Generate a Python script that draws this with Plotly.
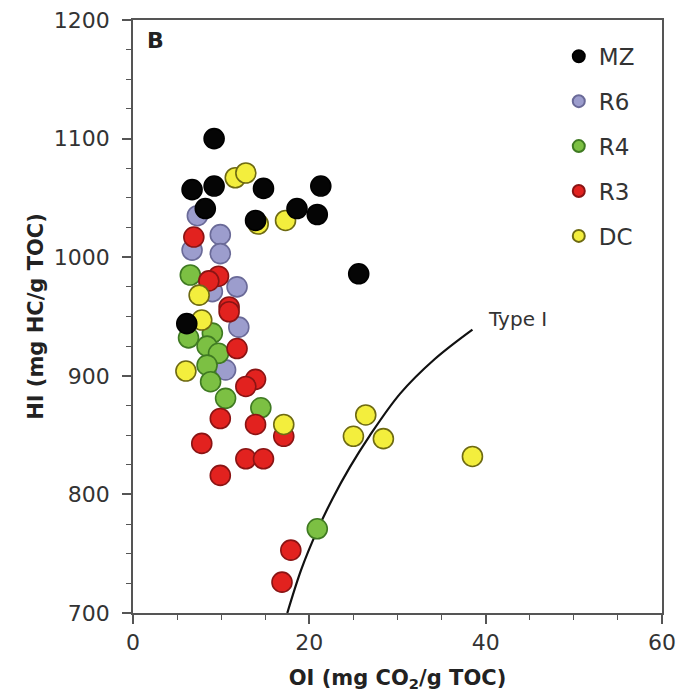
import plotly.graph_objects as go

# ---- data (OI, HI) ----
mz_oi = [9.2, 6.7, 9.2, 8.2, 14.8, 21.3, 18.6, 20.9, 13.9, 25.6, 6.1]
mz_hi = [1100, 1057, 1060, 1041, 1058, 1060, 1041, 1036, 1031, 986, 944]

r6_oi = [7.3, 6.7, 9.9, 9.9, 11.8, 9.0, 12.0, 10.5]
r6_hi = [1035, 1006, 1019, 1003, 975, 971, 941, 905]

r4_oi = [6.5, 6.3, 9.0, 8.4, 9.7, 8.4, 8.8, 10.5, 14.5, 20.9]
r4_hi = [985, 932, 936, 925, 919, 909, 895, 881, 873, 771]

r3_oi = [6.9, 9.7, 8.6, 10.9, 10.9, 11.8, 13.9, 12.8, 9.9, 13.9, 17.1, 7.8, 12.8, 14.8, 9.9, 17.9, 16.9]
r3_hi = [1017, 984, 980, 958, 954, 923, 897, 891, 864, 859, 849, 843, 830, 830, 816, 753, 726]

dc_oi = [11.6, 12.8, 17.3, 14.2, 7.5, 7.8, 6.0, 17.1, 26.4, 25.0, 28.4, 38.5]
dc_hi = [1067, 1071, 1031, 1028, 968, 947, 904, 859, 867, 849, 847, 832]

type1_oi = [17.5, 19.1, 20.8, 22.6, 24.6, 26.8, 30.3, 34.2, 38.5]
type1_hi = [700, 737, 768, 796, 823, 849, 885, 914, 939]

series = [
    ("R6", r6_oi, r6_hi, "#9c9dcd", "#6a6a98", 2),
    ("R4", r4_oi, r4_hi, "#7cc043", "#3f7a22", 3),
    ("R3", r3_oi, r3_hi, "#e2221f", "#8a1414", 4),
    ("DC", dc_oi, dc_hi, "#f3ee3d", "#6e6a12", 5),
    ("MZ", mz_oi, mz_hi, "#050505", "#000000", 1),
]

FONT = "DejaVu Sans, Liberation Sans, Arial, sans-serif"
AXC = "#555555"

fig = go.Figure()

fig.add_trace(go.Scatter(x=type1_oi, y=type1_hi, mode="lines",
                         line=dict(color="#111111", width=2.2, shape="spline", smoothing=1.0),
                         showlegend=False, hoverinfo="skip"))

for name, xs, ys, fc, lc, rank in series:
    fig.add_trace(go.Scatter(
        x=xs, y=ys, mode="markers", name=name, legendgroup=name, legendrank=rank,
        marker=dict(size=20, color=fc, line=dict(color=lc, width=1.6)),
    ))

fig.update_layout(
    width=686, height=700,
    margin=dict(l=133, r=24, t=20, b=87, autoexpand=False),
    paper_bgcolor="white", plot_bgcolor="white",
    font=dict(family=FONT, color="#333333", size=22),
    legend=dict(x=0.958, y=0.975, xanchor="right", yanchor="top",
                font=dict(size=23, color="#333333"),
                itemsizing="constant", tracegroupgap=12,
                bgcolor="rgba(0,0,0,0)", traceorder="grouped"),
    xaxis=dict(range=[0, 60], dtick=20, tick0=0, showgrid=False, zeroline=False,
               showline=True, linecolor=AXC, linewidth=1.8, mirror=True,
               ticks="outside", ticklen=9, tickwidth=1.5, tickcolor=AXC,
               tickfont=dict(size=22, color="#333333"),
               minor=dict(dtick=5, ticks="outside", ticklen=5, tickwidth=1.2, tickcolor=AXC, showgrid=False),
               title=dict(text="OI (mg CO<sub>2</sub>/g TOC)", standoff=16,
                          font=dict(size=21, color="#222222", family=FONT, weight="bold"))),
    yaxis=dict(range=[700, 1200], dtick=100, tick0=700, showgrid=False, zeroline=False,
               showline=True, linecolor=AXC, linewidth=1.8, mirror=True,
               ticks="outside", ticklen=9, tickwidth=1.5, tickcolor=AXC,
               ticklabelstandoff=8,
               tickfont=dict(size=22, color="#333333"),
               minor=dict(dtick=25, ticks="outside", ticklen=5, tickwidth=1.2, tickcolor=AXC, showgrid=False),
               title=dict(text="HI (mg HC/g TOC)", standoff=4,
                          font=dict(size=21, color="#222222", family=FONT, weight="bold"))),
    annotations=[
        dict(x=0.022, y=0.99, xref="paper", yref="paper", xanchor="left", yanchor="top",
             text="<b>B</b>", showarrow=False, font=dict(size=22, color="#222222")),
        dict(x=40.0, y=948, xref="x", yref="y", xanchor="left", yanchor="middle",
             text="Type I", showarrow=False, font=dict(size=20, color="#333333")),
    ],
)

fig.write_html("out.html")
